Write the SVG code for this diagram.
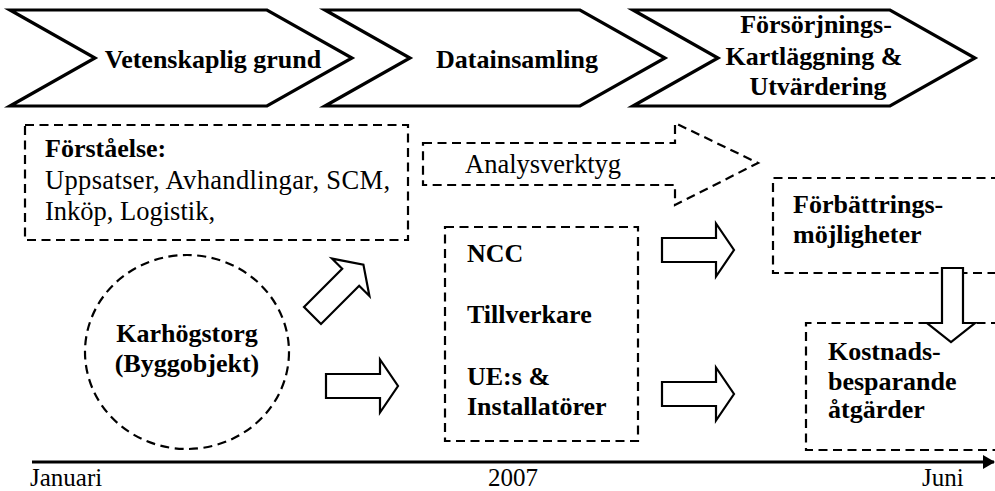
<svg xmlns="http://www.w3.org/2000/svg" width="995" height="491" viewBox="0 0 995 491">
  <style>
    .chev { fill: #fff; stroke: #000; stroke-width: 3.2; stroke-linejoin: miter; }
    .dash { fill: none; stroke: #000; stroke-width: 2.2; stroke-dasharray: 9 5.5; }
    .blk  { fill: #fff; stroke: #000; stroke-width: 2.2; stroke-linejoin: miter; }
    .b { font-family: "Liberation Serif", "Times New Roman", "DejaVu Serif", serif; font-weight: bold; font-size: 26px; fill: #000; }
    .r { font-family: "Liberation Serif", "Times New Roman", "DejaVu Serif", serif; font-size: 26.5px; fill: #000; }
    .t { font-family: "Liberation Serif", "Times New Roman", "DejaVu Serif", serif; font-size: 25px; fill: #000; }
  </style>
  <defs>
    <!-- right-pointing block arrow, tail at origin -->
    <path id="blockArrow" d="M0,-12 H54 V-26.5 L72,0 L54,26.5 V12 H0 Z"/>
    <marker id="timeHead" markerWidth="12" markerHeight="14" refX="11" refY="7" orient="auto" markerUnits="userSpaceOnUse">
      <path d="M0,0 L12,7 L0,14 Z" fill="#000"/>
    </marker>
  </defs>
  <rect width="995" height="491" fill="#fff"/>

  <!-- phase chevrons -->
  <g id="phase-vetenskaplig">
    <polygon class="chev" points="10,10 267,10 352,58 267,106 10,106 95,58"/>
    <text class="b" x="213" y="68" text-anchor="middle">Vetenskaplig grund</text>
  </g>
  <g id="phase-datainsamling">
    <polygon class="chev" points="325,10 580,10 665,58 580,106 325,106 410,58"/>
    <text class="b" x="517" y="68" text-anchor="middle">Datainsamling</text>
  </g>
  <g id="phase-forsorjning">
    <polygon class="chev" points="633,10 890,10 975,58 890,106 633,106 718,58"/>
    <text class="b" x="816" y="33" text-anchor="middle">Försörjnings-</text>
    <text class="b" x="814" y="65" text-anchor="middle">Kartläggning &amp;</text>
    <text class="b" x="818" y="95" text-anchor="middle">Utvärdering</text>
  </g>

  <!-- Förståelse box -->
  <g id="forstaelse">
    <rect class="dash" x="25" y="125" width="383" height="115"/>
    <text class="b" x="45" y="157">Förståelse:</text>
    <text class="r" x="45" y="189" textLength="345">Uppsatser, Avhandlingar, SCM,</text>
    <text class="r" x="45" y="220">Inköp, Logistik,</text>
  </g>

  <!-- Analysverktyg dashed arrow -->
  <g id="analysverktyg">
    <path class="dash" d="M423,143 H675 V123 L758,163 L675,205 V185 H423 Z"/>
    <text class="r" x="465" y="173">Analysverktyg</text>
  </g>

  <!-- building object -->
  <g id="karhogstorg">
    <ellipse class="dash" cx="187" cy="352" rx="102" ry="97"/>
    <text class="b" x="187" y="342" text-anchor="middle">Karhögstorg</text>
    <text class="b" x="187" y="372" text-anchor="middle">(Byggobjekt)</text>
  </g>

  <!-- data sources -->
  <g id="aktorer">
    <rect class="dash" x="445" y="227" width="193" height="214"/>
    <text class="b" x="467" y="262">NCC</text>
    <text class="b" x="467" y="323">Tillverkare</text>
    <text class="b" x="467" y="385">UE:s &amp;</text>
    <text class="b" x="467" y="415">Installatörer</text>
  </g>

  <!-- improvement opportunities (box continues past right edge) -->
  <g id="forbattringar">
    <path class="dash" d="M1000,178 H773 V273 H1000"/>
    <text class="b" x="793" y="213">Förbättrings-</text>
    <text class="b" x="793" y="243">möjligheter</text>
  </g>

  <!-- cost-saving measures (box continues past right edge) -->
  <g id="kostnadsbesparingar">
    <path class="dash" d="M1000,323 H806 V450 H1000"/>
    <text class="b" x="828" y="360">Kostnads-</text>
    <text class="b" x="828" y="390">besparande</text>
    <text class="b" x="828" y="418">åtgärder</text>
  </g>

  <!-- flow arrows -->
  <g id="connectors">
    <use href="#blockArrow" class="blk" transform="translate(312.5,315.5) rotate(-45)"/>
    <use href="#blockArrow" class="blk" transform="translate(326,386)"/>
    <use href="#blockArrow" class="blk" transform="translate(662,250)"/>
    <use href="#blockArrow" class="blk" transform="translate(662,394)"/>
    <path class="blk" d="M942,268 H963 V323 H975 L951,342 L927,323 H942 Z"/>
  </g>

  <!-- timeline -->
  <g id="timeline">
    <line x1="32" y1="462" x2="994" y2="462" stroke="#000" stroke-width="3" marker-end="url(#timeHead)"/>
    <text class="t" x="30" y="486">Januari</text>
    <text class="t" x="513" y="486" text-anchor="middle">2007</text>
    <text class="t" x="922" y="486">Juni</text>
  </g>
</svg>
